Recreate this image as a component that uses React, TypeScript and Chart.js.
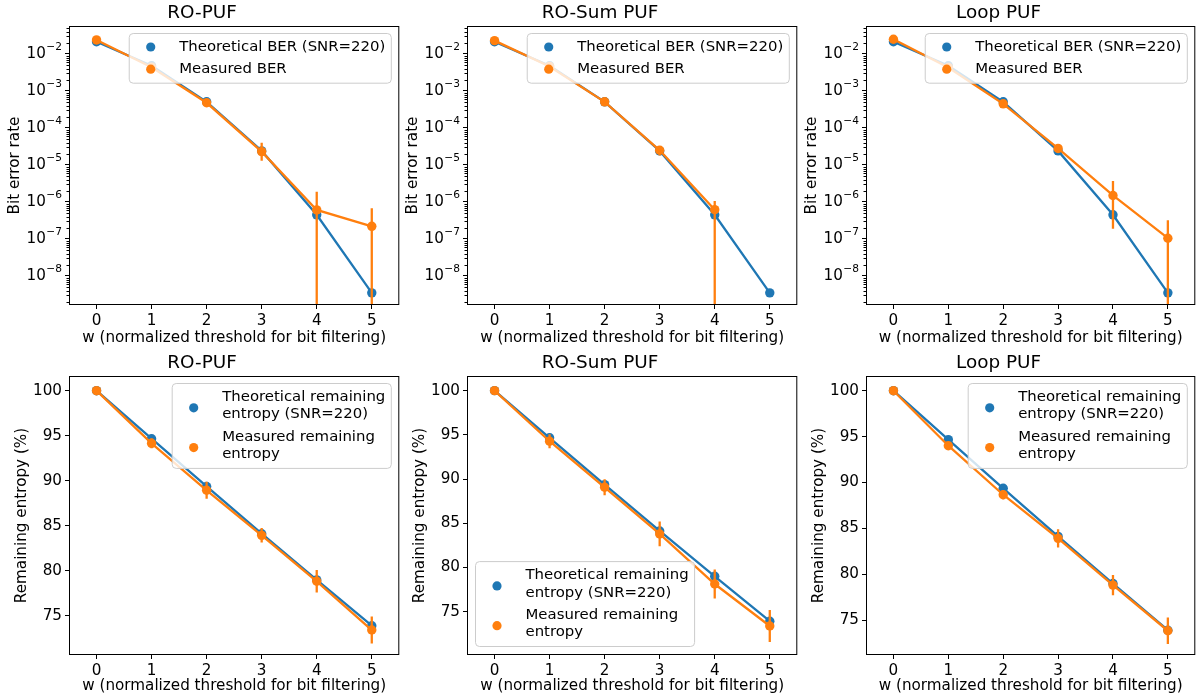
import React, { useEffect, useRef } from "react";
import { Chart, registerables } from "chart.js";

Chart.register(...registerables);

// ---------------- data ----------------
const wValues = [0, 1, 2, 3, 4, 5];
const xTickValues = [0, 1, 2, 3, 4, 5];
const berTickValues = [1e-2, 1e-3, 1e-4, 1e-5, 1e-6, 1e-7, 1e-8];
const entropyTickValues = [75, 80, 85, 90, 95, 100];

const panelTitles = ["RO-PUF", "RO-Sum PUF", "Loop PUF"];
const xAxisTitle = "w (normalized threshold for bit filtering)";
const berAxisTitle = "Bit error rate";
const entropyAxisTitle = "Remaining entropy (%)";

const berLegendLabels = [["Theoretical BER (SNR=220)"], ["Measured BER"]];
const entropyLegendLabels = [
  ["Theoretical remaining", "entropy (SNR=220)"],
  ["Measured remaining", "entropy"],
];

const berTheoretical = [0.0214, 4.8e-3, 5.1e-4, 2.4e-5, 4.5e-7, 3.5e-9];

const berMeasuredRO = [0.024, 4.4e-3, 4.8e-4, 2.3e-5, 6.1e-7, 2.2e-7];
const berLowRO = [0.0235, 4.3e-3, 4.6e-4, 1.3e-5, 0, 0];
const berHighRO = [0.0245, 4.5e-3, 5.0e-4, 4.0e-5, 1.9e-6, 6.8e-7];

const berMeasuredSum = [0.023, 4.6e-3, 5.1e-4, 2.5e-5, 6.2e-7, null];
const berLowSum = [0.0225, 4.5e-3, 4.9e-4, 1.8e-5, 0, null];
const berHighSum = [0.0235, 4.7e-3, 5.3e-4, 3.1e-5, 1.07e-6, null];

const berMeasuredLoop = [0.025, 4.3e-3, 4.5e-4, 2.8e-5, 1.5e-6, 1.05e-7];
const berLowLoop = [0.0245, 4.2e-3, 4.3e-4, 2.2e-5, 1.9e-7, 0];
const berHighLoop = [0.0255, 4.4e-3, 4.7e-4, 3.6e-5, 3.7e-6, 3.2e-7];

const berRange = [1.644e-9, 0.0571];

const entropyTheoretical = [100, 94.67, 89.37, 84.13, 79.0, 73.92];

const entropyMeasuredRO = [100, 94.16, 88.95, 83.95, 78.85, 73.44];
const entropyErrRO = [0, 0.55, 0.95, 0.8, 1.25, 1.5];

const entropyMeasuredSum = [100, 94.28, 89.07, 83.79, 78.13, 73.38];
const entropyErrSum = [0, 0.8, 0.9, 1.4, 1.65, 1.8];

const entropyMeasuredLoop = [100, 94.01, 88.67, 83.92, 78.83, 73.86];
const entropyErrLoop = [0, 0.3, 0.5, 1.0, 1.1, 1.45];

const entropyRangeRO = [70.67, 101.63];
const entropyRangeSum = [70.1, 101.66];
const entropyRangeLoop = [71.22, 101.6];

// ---------------- styling ----------------
const BLUE = "#1f77b4";
const ORANGE = "#ff7f0e";
const FONT = '"DejaVu Sans", "Liberation Sans", sans-serif';
const FS = 15.2;
const LEGEND_FS = 14.9;
const TITLE_FS = 18.4;

type PanelDef = {
  left: number;
  top: number;
  width: number;
  title: string;
  log: boolean;
  yTitle: string;
  yTitlePad: number;
  xTitlePad: number;
  yRange: number[];
  theo: (number | null)[];
  meas: (number | null)[];
  low: (number | null)[];
  high: (number | null)[];
  legendLabels: string[][];
  legendPos: "upper right" | "lower left";
};

const colLefts = [0, 398, 797];
const colWidths = [404, 404, 403];

const sym = (vals: number[], err: number[], sign: number) =>
  vals.map((v, i) => v + sign * err[i]);

const panels: PanelDef[] = [
  { title: panelTitles[0], log: true, theo: berTheoretical, meas: berMeasuredRO, low: berLowRO, high: berHighRO, yRange: berRange },
  { title: panelTitles[1], log: true, theo: berTheoretical, meas: berMeasuredSum, low: berLowSum, high: berHighSum, yRange: berRange },
  { title: panelTitles[2], log: true, theo: berTheoretical, meas: berMeasuredLoop, low: berLowLoop, high: berHighLoop, yRange: berRange },
  { title: panelTitles[0], log: false, theo: entropyTheoretical, meas: entropyMeasuredRO, low: sym(entropyMeasuredRO, entropyErrRO, -1), high: sym(entropyMeasuredRO, entropyErrRO, 1), yRange: entropyRangeRO },
  { title: panelTitles[1], log: false, theo: entropyTheoretical, meas: entropyMeasuredSum, low: sym(entropyMeasuredSum, entropyErrSum, -1), high: sym(entropyMeasuredSum, entropyErrSum, 1), yRange: entropyRangeSum },
  { title: panelTitles[2], log: false, theo: entropyTheoretical, meas: entropyMeasuredLoop, low: sym(entropyMeasuredLoop, entropyErrLoop, -1), high: sym(entropyMeasuredLoop, entropyErrLoop, 1), yRange: entropyRangeLoop },
].map((p: any, idx) => {
  const row = Math.floor(idx / 3);
  const col = idx % 3;
  return {
    ...p,
    left: colLefts[col],
    top: row * 350,
    width: colWidths[col],
    yTitle: p.log ? berAxisTitle : entropyAxisTitle,
    yTitlePad: p.log ? 5.6 : 13.4,
    xTitlePad: row === 0 ? 2.8 : 5.0,
    legendLabels: p.log ? berLegendLabels : entropyLegendLabels,
    legendPos: !p.log && col === 1 ? "lower left" : "upper right",
  } as PanelDef;
});

function makeDecorPlugin(p: PanelDef) {
  return {
    id: "pufDecor",
    afterDatasetsDraw(chart: any) {
      const { ctx, chartArea } = chart;
      const xs = chart.scales.x;
      const ys = chart.scales.y;
      ctx.save();
      ctx.beginPath();
      ctx.rect(chartArea.left, chartArea.top, chartArea.right - chartArea.left, chartArea.bottom - chartArea.top);
      ctx.clip();
      ctx.strokeStyle = ORANGE;
      ctx.lineWidth = 2.3;
      ctx.lineCap = "butt";
      wValues.forEach((w, i) => {
        const m = p.meas[i];
        const lo = p.low[i];
        const hi = p.high[i];
        if (m == null || lo == null || hi == null) return;
        const x = xs.getPixelForValue(w);
        const yHi = ys.getPixelForValue(hi);
        const yLo = p.log && lo <= 0 ? chartArea.bottom + 5 : ys.getPixelForValue(lo);
        ctx.beginPath();
        ctx.moveTo(x, yHi);
        ctx.lineTo(x, yLo);
        ctx.stroke();
      });
      ctx.restore();
    },
    afterDraw(chart: any) {
      const { ctx, chartArea } = chart;
      const ys = chart.scales.y;
      ctx.save();
      // frame
      ctx.strokeStyle = "#000";
      ctx.lineWidth = 1;
      ctx.strokeRect(chartArea.left + 0.5, chartArea.top + 0.5, chartArea.right - chartArea.left - 1, chartArea.bottom - chartArea.top - 1);
      if (p.log) {
        // minor log ticks
        ctx.beginPath();
        for (let e = -12; e <= 1; e++) {
          for (let m = 2; m <= 9; m++) {
            const v = m * Math.pow(10, e);
            if (v < ys.min || v > ys.max) continue;
            const y = Math.round(ys.getPixelForValue(v)) + 0.5;
            ctx.moveTo(chartArea.left, y);
            ctx.lineTo(chartArea.left - 2.5, y);
          }
        }
        ctx.stroke();
        // log tick labels as 10^exp
        ctx.fillStyle = "#000";
        ctx.textBaseline = "middle";
        ctx.textAlign = "left";
        const supFs = FS * 0.7;
        berTickValues.forEach((v) => {
          const e = Math.round(Math.log10(v));
          const expText = (e < 0 ? "\u2212" : "") + String(Math.abs(e));
          const y = ys.getPixelForValue(v);
          ctx.font = `${supFs}px ${FONT}`;
          const ew = ctx.measureText(expText).width;
          ctx.font = `${FS}px ${FONT}`;
          const bw = ctx.measureText("10").width;
          const right = chartArea.left - 7;
          const x0 = right - ew - bw - 0.5;
          ctx.fillText("10", x0, y);
          ctx.font = `${supFs}px ${FONT}`;
          ctx.fillText(expText, x0 + bw + 0.5, y - FS * 0.42);
        });
      }
      // legend
      ctx.font = `${LEGEND_FS}px ${FONT}`;
      let maxW = 0;
      p.legendLabels.forEach((lines) => lines.forEach((t) => (maxW = Math.max(maxW, ctx.measureText(t).width))));
      const lineStep = 17.6;
      const entryGap = 22.2;
      const rowsY: number[][] = [];
      let y = 13.5;
      p.legendLabels.forEach((lines, ei) => {
        const ry: number[] = [];
        lines.forEach((_, li) => {
          ry.push(y);
          if (li < lines.length - 1) y += lineStep;
        });
        rowsY.push(ry);
        if (ei < p.legendLabels.length - 1) y += entryGap;
      });
      const textOff = 50;
      const boxW = textOff + maxW + 6;
      const boxH = y + 14;
      let bx: number, by: number;
      if (p.legendPos === "upper right") {
        bx = chartArea.right - 8 - boxW;
        by = chartArea.top + 7.5;
      } else {
        bx = chartArea.left + 8.5;
        by = chartArea.bottom - 8.5 - boxH;
      }
      ctx.beginPath();
      if (ctx.roundRect) ctx.roundRect(bx, by, boxW, boxH, 4);
      else ctx.rect(bx, by, boxW, boxH);
      ctx.fillStyle = "rgba(255,255,255,0.8)";
      ctx.fill();
      ctx.strokeStyle = "#cccccc";
      ctx.lineWidth = 1;
      ctx.stroke();
      const colors = [BLUE, ORANGE];
      ctx.textBaseline = "middle";
      ctx.textAlign = "left";
      p.legendLabels.forEach((lines, ei) => {
        const ry = rowsY[ei];
        const my = ry.reduce((a, b) => a + b, 0) / ry.length + (ry.length > 1 ? 2 : 0);
        ctx.beginPath();
        ctx.arc(bx + 21.5, by + my, 4.6, 0, Math.PI * 2);
        ctx.fillStyle = colors[ei];
        ctx.fill();
        ctx.fillStyle = "#000";
        lines.forEach((t, li) => ctx.fillText(t, bx + textOff, by + ry[li]));
      });
      ctx.restore();
    },
  };
}

function PanelChart({ p }: { p: PanelDef }) {
  const ref = useRef<HTMLCanvasElement>(null);
  useEffect(() => {
    const canvas = ref.current!;
    const toPts = (arr: (number | null)[]) =>
      wValues.map((x, i) => ({ x, y: arr[i] })).filter((d) => d.y != null);
    const tickFont = { size: FS, family: FONT };
    const chart = new Chart(canvas, {
      type: "line",
      data: {
        datasets: [
          {
            label: "theoretical",
            data: toPts(p.theo) as any,
            borderColor: BLUE,
            backgroundColor: BLUE,
            borderWidth: 2.3,
            pointRadius: 4.7,
            pointBorderWidth: 0,
            pointBackgroundColor: BLUE,
            order: 2,
          },
          {
            label: "measured",
            data: toPts(p.meas) as any,
            borderColor: ORANGE,
            backgroundColor: ORANGE,
            borderWidth: 2.3,
            pointRadius: 4.7,
            pointBorderWidth: 0,
            pointBackgroundColor: ORANGE,
            order: 1,
          },
        ],
      },
      options: {
        animation: false,
        responsive: false,
        maintainAspectRatio: false,
        events: [],
        layout: { padding: 0 },
        plugins: {
          legend: { display: false },
          tooltip: { enabled: false },
          title: {
            display: true,
            text: p.title,
            color: "#000",
            font: { size: TITLE_FS, family: FONT, weight: "normal" as any },
            padding: { top: 2.66, bottom: 1.26 },
          },
        },
        scales: {
          x: {
            type: "linear",
            min: -0.5,
            max: 5.5,
            afterBuildTicks: (s: any) => {
              s.ticks = xTickValues.map((v) => ({ value: v }));
            },
            afterFit: (s: any) => {
              s.height = 45;
            },
            ticks: { font: tickFont, color: "#000", padding: 3, autoSkip: false, maxRotation: 0, callback: (v: any) => String(v) },
            grid: { display: true, drawOnChartArea: false, drawTicks: true, tickLength: 4, tickColor: "#000", tickWidth: 1 },
            border: { display: false },
            title: { display: true, text: xAxisTitle, color: "#000", font: tickFont, padding: { top: 0, bottom: p.xTitlePad } },
          },
          y: {
            type: p.log ? "logarithmic" : "linear",
            min: p.yRange[0],
            max: p.yRange[1],
            afterBuildTicks: (s: any) => {
              s.ticks = (p.log ? berTickValues : entropyTickValues).map((v) => ({ value: v }));
            },
            afterFit: (s: any) => {
              s.width = 69;
            },
            ticks: {
              display: !p.log,
              font: tickFont,
              color: "#000",
              padding: 3,
              autoSkip: false,
              callback: (v: any) => String(v),
            },
            grid: { display: true, drawOnChartArea: false, drawTicks: true, tickLength: 4, tickColor: "#000", tickWidth: 1 },
            border: { display: false },
            title: { display: true, text: p.yTitle, color: "#000", font: tickFont, padding: { top: p.yTitlePad, bottom: 0 } },
          },
        },
      } as any,
      plugins: [makeDecorPlugin(p)],
    });
    return () => chart.destroy();
  }, [p]);
  return (
    <canvas
      ref={ref}
      width={p.width}
      height={350}
      style={{ position: "absolute", left: p.left, top: p.top, width: p.width, height: 350 }}
    />
  );
}

export default function App() {
  return (
    <div
      style={{
        position: "fixed",
        left: 0,
        top: 0,
        width: 1200,
        height: 700,
        overflow: "hidden",
        background: "#fff",
      }}
    >
      {panels.map((p, i) => (
        <PanelChart key={i} p={p} />
      ))}
    </div>
  );
}
